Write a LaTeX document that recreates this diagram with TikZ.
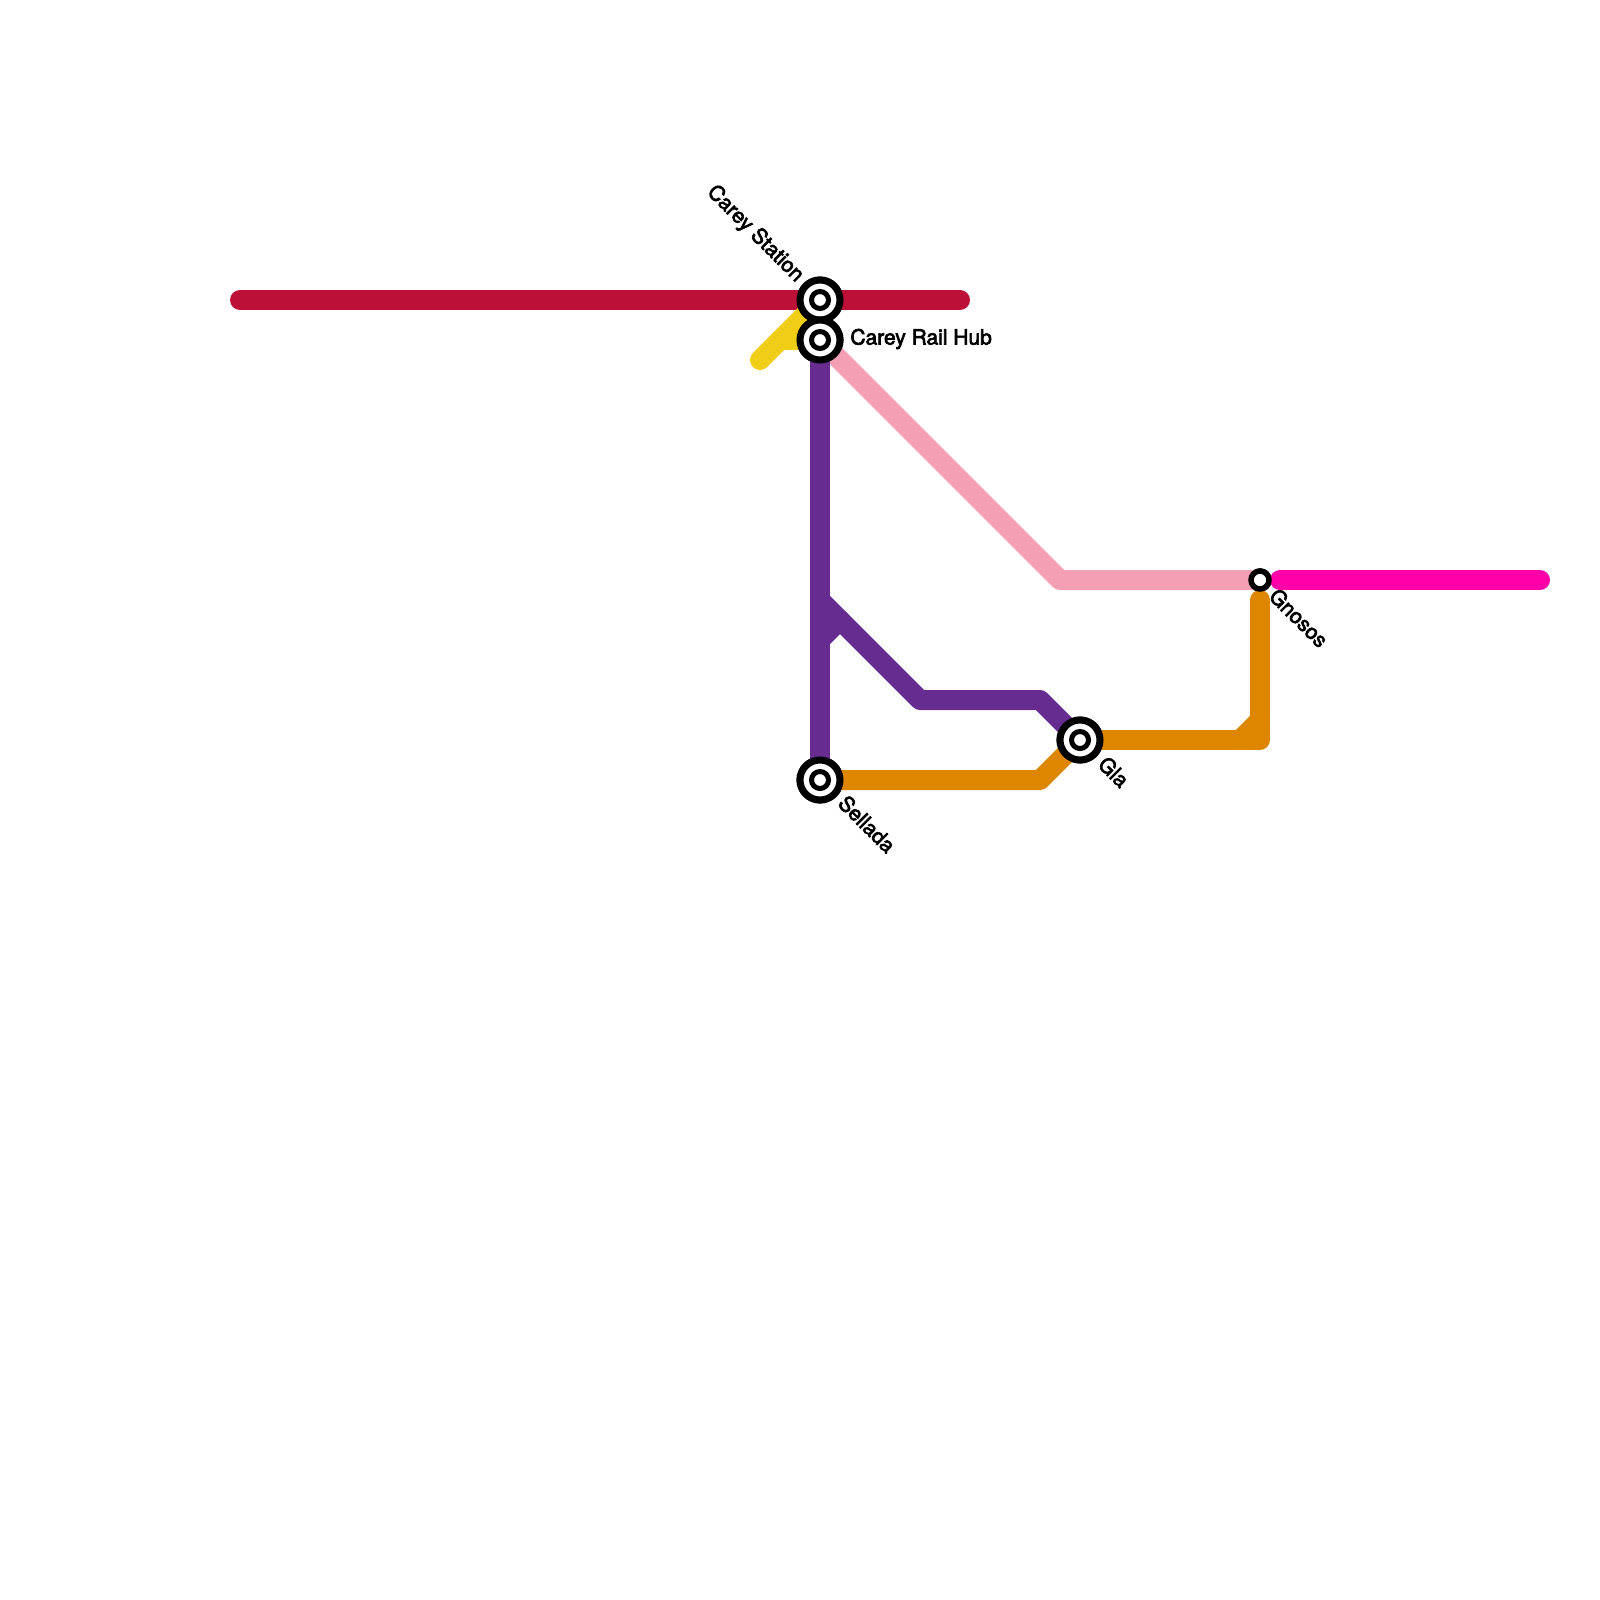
\documentclass[tikz,border=0pt]{standalone}
\usepackage{fontspec}
\newfontfamily\stationfont[FakeBold=3]{TeX Gyre Heros}
\definecolor{linered}{HTML}{BD1038}
\definecolor{lineyellow}{HTML}{F0CE15}
\definecolor{linepurple}{HTML}{662C90}
\definecolor{linepink}{HTML}{F49FB3}
\definecolor{lineorange}{HTML}{DF8600}
\definecolor{linemagenta}{HTML}{FF00A8}
\begin{document}
\begin{tikzpicture}[
    x=0.5pt, y=-0.5pt,
    route/.style={line width=10pt, line cap=round, line join=round},
    interchange/.style={circle, draw=black, fill=white, line width=3.5pt,
                        minimum size=20pt, inner sep=0pt, outer sep=0pt,
                        path picture={\draw[line width=2.5pt]
                            (path picture bounding box.center) circle (8.5);}},
    halt/.style={circle, draw=black, fill=white, line width=2.75pt,
                 minimum size=9pt, inner sep=0pt, outer sep=0pt},
    slabel/.style={font=\stationfont\fontsize{10.5}{12}\selectfont, text=black,
                   inner sep=0pt},
    dlabel/.style={slabel, rotate=-45},
]
\useasboundingbox (0, 0) rectangle (1600, 1600);

% Stations
\node[interchange] (carey)   at (820, 300)  {};
\node[interchange] (hub)     at (820, 340)  {};
\node[interchange] (sellada) at (820, 780)  {};
\node[interchange] (gla)     at (1080, 740) {};
\node[halt]        (gnosos)  at (1260, 580) {};

% Line ends and bends
\coordinate (redw)  at (240, 300);
\coordinate (rede)  at (960, 300);
\coordinate (yelw)  at (760, 360);
\coordinate (yelb)  at (780, 340);
\coordinate (pinkb) at (1060, 580);
\coordinate (purs)  at (820, 600);
\coordinate (purn)  at (820, 640);
\coordinate (purt)  at (840, 620);
\coordinate (purb)  at (920, 700);
\coordinate (purc)  at (1040, 700);
\coordinate (orab)  at (1040, 780);
\coordinate (orac)  at (1260, 740);
\coordinate (oran)  at (1240, 740);
\coordinate (orat)  at (1260, 720);
\coordinate (orae)  at (1260, 600);
\coordinate (magw)  at (1280, 580);
\coordinate (mage)  at (1540, 580);

% Red line through Carey Station
\draw[route, linered] (redw) -- (rede);

% Yellow line
\draw[route, lineyellow] (yelw) -- (carey);
\draw[route, lineyellow] (yelb) -- (hub);

% Pink line
\draw[route, linepink] (hub) -- (pinkb) -- (gnosos);

% Purple line, with its branch
\draw[route, linepurple] (hub) -- (sellada);
\draw[route, linepurple] (purs) -- (purb) -- (purc) -- (gla);
\draw[route, linepurple] (purn) -- (purt);

% Orange line, with its stub
\draw[route, lineorange] (sellada) -- (orab) -- (gla);
\draw[route, lineorange] (gla) -- (orac) -- (orae);
\draw[route, lineorange] (oran) -- (orat);

% Magenta line
\draw[route, linemagenta] (magw) -- (mage);

% Stations again, on top of the lines
\node[interchange] at (carey)   {};
\node[interchange] at (hub)     {};
\node[interchange] at (sellada) {};
\node[interchange] at (gla)     {};
\node[halt]        at (gnosos)  {};

% Labels
\node[dlabel, anchor=east] (lcarey)   at (800, 279)  {Carey Station};
\node[slabel, anchor=west] (lhub)     at (850, 339)  {Carey Rail Hub};
\node[dlabel, anchor=west] (lsellada) at (842, 799)  {Sellada};
\node[dlabel, anchor=west] (lgla)     at (1102, 760) {Gla};
\node[dlabel, anchor=west] (lgnosos)  at (1273, 592) {Gnosos};

\end{tikzpicture}
\end{document}
